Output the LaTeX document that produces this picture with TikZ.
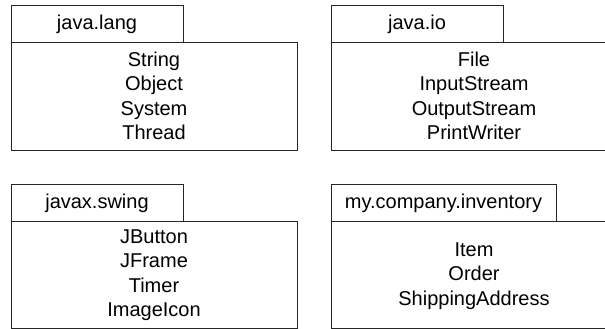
\documentclass[tikz,border=0pt]{standalone}
\usepackage{fontspec}
\setmainfont{Liberation Sans}
\begin{document}
\begin{tikzpicture}[x=0.75pt,y=-0.75pt,
  pkgline/.style={draw=black!85,line width=0.9pt},
  tabbox/.style={pkgline,rectangle,anchor=north west,minimum height=37*0.75pt,inner sep=0pt,font=\fontsize{15pt}{18pt}\selectfont},
  bodybox/.style={pkgline,rectangle,anchor=north west,minimum width=286*0.75pt,inner sep=0pt},
  members/.style={align=center,inner sep=0pt,font=\fontsize{15pt}{18.4pt}\selectfont}]
\useasboundingbox (0,0) rectangle (605,328);
\clip (0,0) rectangle (605,328);
% java.lang
\node[bodybox,minimum height=108*0.75pt] (b1) at (11,42) {};
\node[tabbox,minimum width=172*0.75pt] (t1) at (11,5) {};
\node at (97,24) (t1l) {\fontsize{15pt}{18pt}\selectfont java.lang};
\node[members] (m1) at (154,96) {String\\Object\\System\\Thread};
% java.io
\node[bodybox,minimum height=108*0.75pt] (b2) at (331,42) {};
\node[tabbox,minimum width=172*0.75pt] (t2) at (331,5) {};
\node at (417,24) (t2l) {\fontsize{15pt}{18pt}\selectfont java.io};
\node[members] (m2) at (474,96) {File\\InputStream\\OutputStream\\PrintWriter};
% javax.swing
\node[bodybox,minimum height=106.5*0.75pt] (b3) at (11,221) {};
\node[tabbox,minimum width=172*0.75pt] (t3) at (11,184) {};
\node at (97,203) (t3l) {\fontsize{15pt}{18pt}\selectfont javax.swing};
\node[members] (m3) at (154,275) {JButton\\JFrame\\Timer\\ImageIcon};
% my.company.inventory
\node[bodybox,minimum height=106.5*0.75pt] (b4) at (331,221) {};
\node[tabbox,minimum width=225*0.75pt] (t4) at (331,184) {};
\node at (443.5,203) (t4l) {\fontsize{15pt}{18pt}\selectfont my.company.inventory};
\node[members] (m4) at (474,276) {Item\\Order\\ShippingAddress};
\end{tikzpicture}
\end{document}
